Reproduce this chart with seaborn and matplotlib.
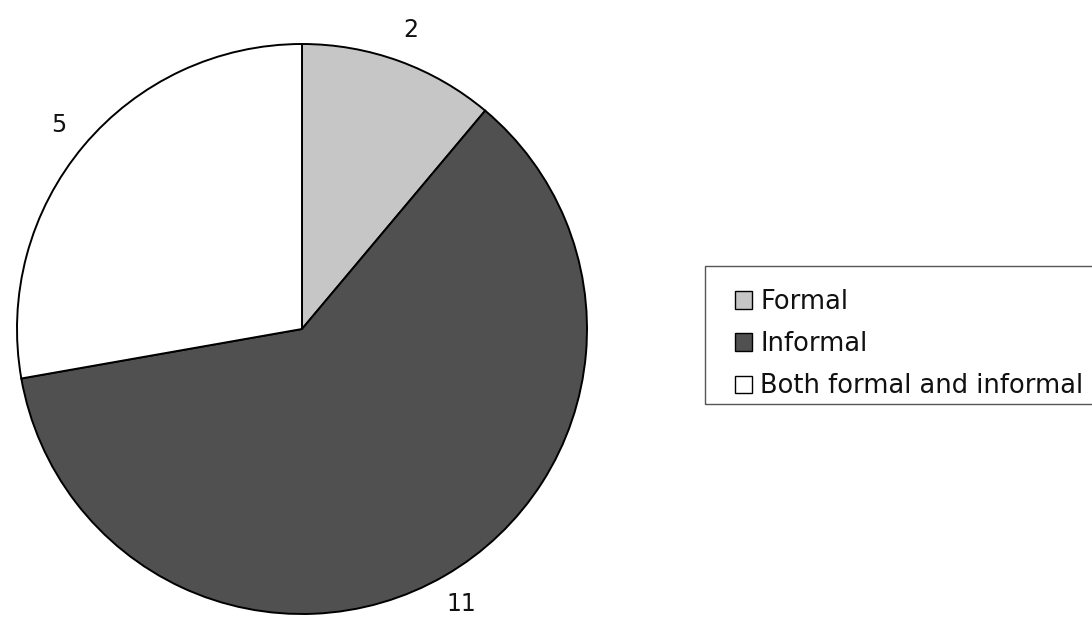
import matplotlib
matplotlib.use("Agg")
import matplotlib.pyplot as plt
from matplotlib.patches import Rectangle
import seaborn as sns

# Count of respondents by type of training
categories = ["Formal", "Informal", "Both formal and informal"]
counts = [2, 11, 5]
colors = ["#c6c6c6", "#505050", "#ffffff"]

sns.set_theme(style="white")
plt.rcParams["font.family"] = ["DejaVu Sans"]
plt.rcParams["text.color"] = "#111111"

fig = plt.figure(figsize=(10.92, 6.21), dpi=100)
W, H = 1092, 621
# pie axes: 570 px square, left edge at x=17, top edge at y=44
ax = fig.add_axes([17 / W, (H - 614) / H, 570 / W, 570 / H])

wedges, texts = ax.pie(
    counts,
    labels=[str(c) for c in counts],
    colors=colors,
    startangle=90,
    counterclock=False,
    labeldistance=1.115,
    wedgeprops=dict(edgecolor="black", linewidth=1.4),
    textprops=dict(fontsize=17, color="#111111"),
)
for t in texts:
    t.set_horizontalalignment("center")
    t.set_verticalalignment("center")
ax.set_xlim(-1, 1)
ax.set_ylim(-1, 1)
ax.set_aspect("equal")
ax.axis("off")

# legend box frame (runs off the right edge of the figure)
fig.add_artist(Rectangle((705 / W, 1 - 404 / H), 420 / W, 138 / H,
                         transform=fig.transFigure, facecolor="none",
                         edgecolor="#555555", linewidth=1.0))

leg = fig.legend(
    wedges,
    categories,
    loc="upper left",
    bbox_to_anchor=(735 / W, 1 - 289 / H),
    fontsize=18.5,
    frameon=False,
    handlelength=0.68,
    handleheight=0.68,
    handletextpad=0.3,
    labelspacing=0.63,
    borderpad=0,
    borderaxespad=0,
    labelcolor="#111111",
)
for h in leg.legend_handles:
    h.set_linewidth(1.0)

fig.savefig("out.png", dpi=100, facecolor="white")
